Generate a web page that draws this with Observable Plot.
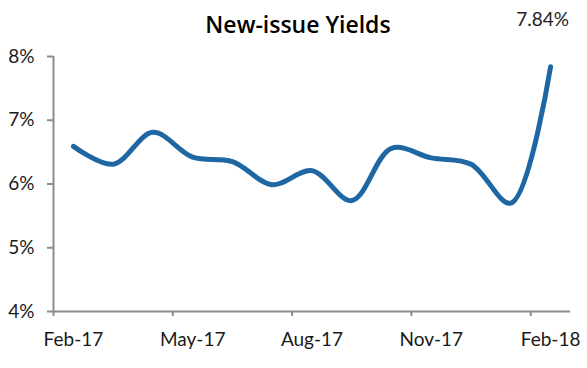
<!DOCTYPE html>
<html>
<head>
<meta charset="utf-8">
<script src="https://cdn.jsdelivr.net/npm/d3@7"></script>
<script src="https://cdn.jsdelivr.net/npm/@observablehq/plot@0.6"></script>
<style>
  html, body { margin: 0; padding: 0; background: #fff; }
  #chart { width: 587px; height: 368px; }
</style>
</head>
<body>
<div id="chart"></div>
<script>
const title = "New-issue Yields";
const months = ["Feb-17","Mar-17","Apr-17","May-17","Jun-17","Jul-17","Aug-17","Sep-17","Oct-17","Nov-17","Dec-17","Jan-18","Feb-18"];
const yields = [6.59, 6.31, 6.81, 6.42, 6.35, 5.99, 6.21, 5.74, 6.56, 6.41, 6.31, 5.70, 7.84];
const yTicks = [4, 5, 6, 7, 8];
const labelIdx = [0, 3, 6, 9, 12];
const tickBounds = [-0.5, 2.5, 5.5, 8.5, 11.5];

const data = months.map((m, i) => ({ i, m, v: yields[i] }));
const last = data[data.length - 1];
const axisGray = "#8c8c8c";
const textColor = "#1a1a1a";

const chart = Plot.plot({
  width: 587,
  height: 368,
  marginLeft: 53,
  marginRight: 17,
  marginTop: 56,
  marginBottom: 57,
  style: { fontFamily: "Lato, sans-serif", fontSize: "19px", color: textColor, background: "#fff", overflow: "visible" },
  x: { type: "linear", domain: [-0.5, months.length - 0.5] },
  y: { domain: [4, 8] },
  marks: [
    Plot.ruleX([-0.5], { stroke: axisGray, strokeWidth: 2 }),
    Plot.ruleY([4], { stroke: axisGray, strokeWidth: 2 }),
    Plot.axisY({ ticks: yTicks, tickSize: 6, tickPadding: 13, tickFormat: d => d + "%", stroke: axisGray, strokeWidth: 2, fill: textColor, label: null }),
    Plot.axisX({ ticks: tickBounds, tickSize: 5, tickFormat: () => "", stroke: axisGray, strokeWidth: 2, label: null }),
    Plot.axisX({ ticks: labelIdx, tickSize: 0, tickPadding: 21, tickFormat: i => months[i], fill: textColor, label: null }),
    Plot.line(data, { x: "i", y: "v", curve: "catmull-rom", stroke: "#1f67a2", strokeWidth: 5, strokeLinecap: "round", strokeLinejoin: "round" }),
    Plot.text([last], { x: "i", y: "v", text: d => d.v.toFixed(2) + "%", dx: -8, dy: -47, fill: "#222", fontSize: 19, letterSpacing: "1px" }),
    Plot.text([title], { frameAnchor: "top", lineAnchor: "middle", text: d => d, dx: -14, dy: -31, fontWeight: 600, fontSize: 23, fontFamily: "Open Sans, sans-serif", fill: "#000" })
  ]
});
document.getElementById("chart").appendChild(chart);
</script>
</body>
</html>
